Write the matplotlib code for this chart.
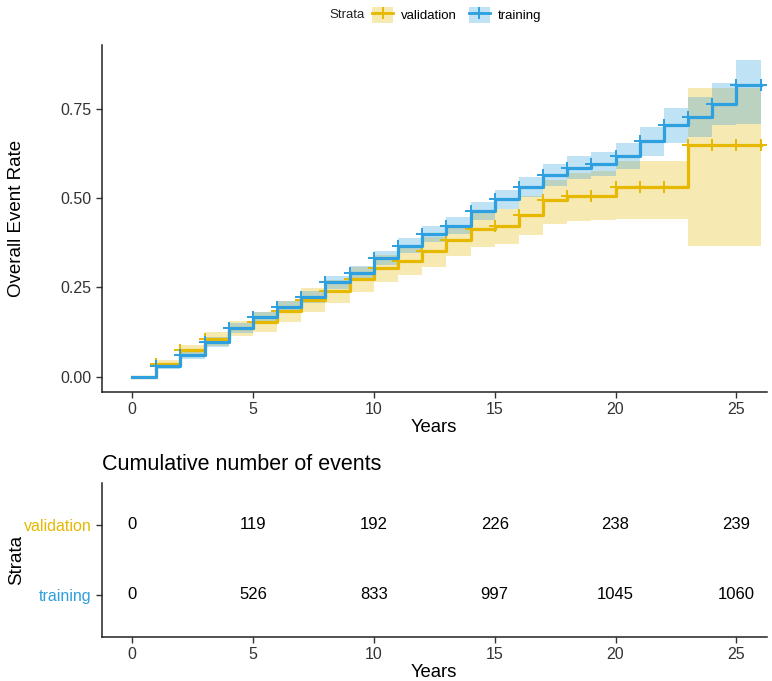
import matplotlib
matplotlib.use("Agg")
import matplotlib.pyplot as plt
import numpy as np
from matplotlib.lines import Line2D
from matplotlib.patches import Patch

plt.rcParams["font.family"] = ["Liberation Sans", "DejaVu Sans"]

# step edges (years); level i holds on [i, i+1)
YEARS = list(range(27))

TRAIN_EST = [0.0, 0.029, 0.062, 0.097, 0.136, 0.167, 0.196, 0.224, 0.264, 0.290,
             0.332, 0.366, 0.400, 0.423, 0.463, 0.497, 0.531, 0.565, 0.585, 0.596,
             0.619, 0.659, 0.704, 0.727, 0.764, 0.818]
TRAIN_LO = [0.0, 0.020, 0.050, 0.084, 0.122, 0.152, 0.180, 0.207, 0.246, 0.271,
            0.312, 0.345, 0.378, 0.400, 0.438, 0.471, 0.503, 0.535, 0.553, 0.562,
            0.583, 0.618, 0.655, 0.670, 0.705, 0.707]
TRAIN_HI = [0.0, 0.038, 0.074, 0.110, 0.150, 0.182, 0.212, 0.241, 0.282, 0.309,
            0.352, 0.387, 0.422, 0.446, 0.488, 0.523, 0.559, 0.595, 0.617, 0.630,
            0.655, 0.700, 0.753, 0.784, 0.823, 0.886]

VALID_EST = [0.0, 0.034, 0.074, 0.105, 0.136, 0.154, 0.183, 0.214, 0.240, 0.274,
             0.304, 0.324, 0.352, 0.384, 0.415, 0.423, 0.454, 0.494, 0.506, 0.506,
             0.531, 0.531, 0.531, 0.650, 0.650, 0.650]
VALID_LO = [0.0, 0.024, 0.058, 0.086, 0.113, 0.126, 0.154, 0.180, 0.207, 0.238,
            0.264, 0.284, 0.307, 0.338, 0.364, 0.372, 0.398, 0.429, 0.437, 0.440,
            0.443, 0.443, 0.443, 0.366, 0.366, 0.366]
VALID_HI = [0.0, 0.046, 0.088, 0.125, 0.157, 0.180, 0.213, 0.247, 0.272, 0.308,
            0.342, 0.362, 0.392, 0.426, 0.460, 0.470, 0.505, 0.550, 0.570, 0.575,
            0.605, 0.605, 0.605, 0.810, 0.810, 0.810]

TABLE_TIMES = [0, 5, 10, 15, 20, 25]
VALID_EVENTS = [0, 119, 192, 226, 238, 239]
TRAIN_EVENTS = [0, 526, 833, 997, 1045, 1060]

YELLOW = "#E7B800"
BLUE = "#2E9FDF"
STRATA = [
    ("validation", VALID_EST, VALID_LO, VALID_HI, VALID_EVENTS, YELLOW),
    ("training", TRAIN_EST, TRAIN_LO, TRAIN_HI, TRAIN_EVENTS, BLUE),
]


def style_axis(ax):
    ax.spines["top"].set_visible(False)
    ax.spines["right"].set_visible(False)
    for side in ["left", "bottom"]:
        ax.spines[side].set_linewidth(1.1)
        ax.spines[side].set_color("#222222")
    ax.tick_params(length=4, width=1, color="#333333", labelsize=11.5,
                   labelcolor="#333333")


def ext(v):
    return np.append(v, v[-1])


fig = plt.figure(figsize=(7.72, 6.81), dpi=100)
ax = fig.add_axes([0.132, 0.4244, 0.861, 0.51])
tab = fig.add_axes([0.132, 0.0646, 0.861, 0.2265])

x = np.array(YEARS)
for name, est, lo, hi, events, color in STRATA:
    ax.fill_between(x, ext(lo), ext(hi), step="post", color=color, alpha=0.3, lw=0)
for name, est, lo, hi, events, color in STRATA:
    ax.step(x, ext(est), where="post", color=color, lw=2.3)
    ax.plot(x[1:], ext(est)[1:], ls="none", marker="+", ms=8, mew=1.4, color=color)

ax.set_xlim(-1.25, 26.25)
ax.set_ylim(-0.043, 0.93)
ax.set_xticks([0, 5, 10, 15, 20, 25])
ax.set_yticks([0, 0.25, 0.5, 0.75])
ax.set_yticklabels(["0.00", "0.25", "0.50", "0.75"])
ax.set_xlabel("Years", fontsize=13.3, labelpad=1)
ax.set_ylabel("Overall Event Rate", fontsize=13.5)
ax.yaxis.set_label_coords(-0.116, 0.5)
style_axis(ax)

# risk-table style panel
rows = {"validation": 2, "training": 1}
for name, est, lo, hi, events, color in STRATA:
    for t, n in zip(TABLE_TIMES, events):
        tab.text(t, rows[name], str(n), ha="center", va="center", fontsize=12,
                 color="black")
tab.set_xlim(-1.25, 26.25)
tab.set_ylim(0.4, 2.6)
tab.set_xticks(TABLE_TIMES)
tab.set_yticks([2, 1])
tab.set_yticklabels(["validation", "training"])
style_axis(tab)
for lbl, strata in zip(tab.get_yticklabels(), STRATA):
    lbl.set_color(strata[-1])
tab.set_xlabel("Years", fontsize=13.3, labelpad=1)
tab.set_ylabel("Strata", fontsize=13.5)
tab.yaxis.set_label_coords(-0.116, 0.5)
tab.set_title("Cumulative number of events", fontsize=15.5, loc="left", pad=9)

handles = [
    (Patch(facecolor=color, alpha=0.3, lw=0),
     Line2D([], [], color=color, lw=2, marker="+", ms=8, mew=1.4))
    for name, est, lo, hi, events, color in STRATA
]
labels = [s[0] for s in STRATA]
fig.text(329 / 772, 1 - 15 / 681, "Strata", fontsize=9.5, ha="left", va="center",
         color="#222222")
fig.legend(handles, labels, loc="center left", bbox_to_anchor=(372 / 772, 1 - 15 / 681),
           ncol=2, frameon=False, fontsize=9.5, handlelength=1.6, handleheight=1.6,
           handletextpad=0.6, columnspacing=0.9, borderpad=0, borderaxespad=0)

fig.savefig("out.png", dpi=100)
